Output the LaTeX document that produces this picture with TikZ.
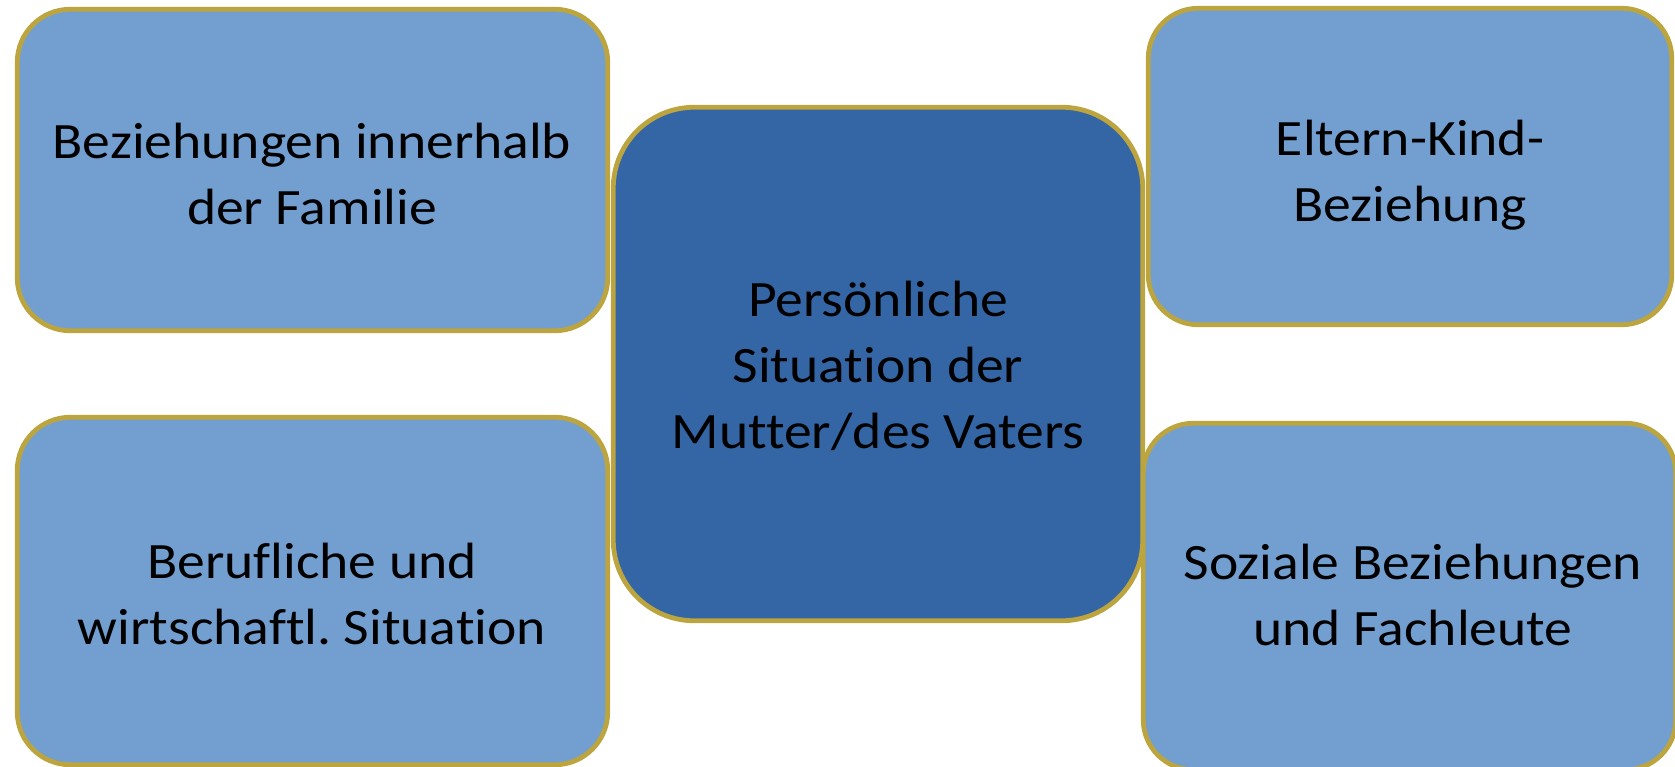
\documentclass[tikz,border=0pt]{standalone}
\usepackage{fontspec}
\setmainfont{Carlito}[Ligatures=NoCommon, FakeStretch=1.09]
\definecolor{lightfill}{HTML}{729FCF}
\definecolor{darkfill}{HTML}{3465A4}
\definecolor{goldline}{RGB}{188,164,62}
\begin{document}
\begin{tikzpicture}[x=1pt,y=-1pt,
  boxshape/.style={draw=goldline, line width=4.8pt, rounded corners=#1,
    inner sep=0pt, outer sep=0pt, rectangle},
  lightbox/.style={boxshape=#1, fill=lightfill},
  darkbox/.style={boxshape=#1, fill=darkfill},
  boxlabel/.style={anchor=base, align=center, inner sep=0pt, text=black,
    font=\fontsize{51}{66}\selectfont\frenchspacing}]
\useasboundingbox (0,0) rectangle (1675,766);
% boxes
\node[darkbox=81pt, minimum width=529.5pt, minimum height=513.5pt] (center) at (878,364) {};
\node[lightbox=53pt, minimum width=590.5pt, minimum height=321.5pt] (tl) at (312.5,170) {};
\node[lightbox=53pt, minimum width=590.5pt, minimum height=347.5pt] (bl) at (312.5,591) {};
\node[lightbox=50pt, minimum width=523.5pt, minimum height=316.5pt] (tr) at (1410,166.5) {};
\node[lightbox=50pt, minimum width=532.5pt, minimum height=346.5pt] (br) at (1409.5,596.5) {};
% texts
\node[boxlabel] (tltext) at (312,224) {Beziehungen innerhalb\\der Familie};
\node[boxlabel] (ctext) at (878,448) {Persönliche\\Situation der\\Mutter/des Vaters};
\node[boxlabel] (trtext) at (1410,221) {Eltern-Kind-\\Beziehung};
\node[boxlabel] (bltext) at (312,644) {Berufliche und\\wirtschaftl.\ Situation};
\node[boxlabel] (brtext) at (1413,645) {Soziale Beziehungen\\und Fachleute};
\end{tikzpicture}
\end{document}
